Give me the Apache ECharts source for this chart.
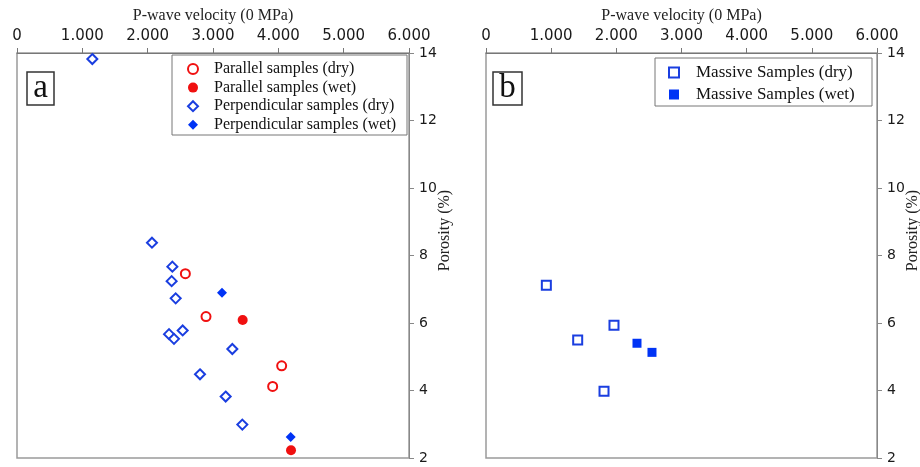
<!DOCTYPE html>
<html>
<head>
<meta charset="utf-8">
<title>P-wave velocity vs porosity</title>
<script src="https://cdn.jsdelivr.net/npm/echarts@6/dist/echarts.min.js"></script>
<style>
    html, body { margin: 0; padding: 0; background: #fff; }
    #main { width: 920px; height: 467px; }
</style>
</head>
<body>
<div id="main"></div>
<script>
// data: [P-wave velocity, porosity %]
var parallelDry = [[2577, 7.46], [2893, 6.19], [4051, 4.73], [3913, 4.12]];
var parallelWet = [[3454, 6.09], [4194, 2.23]];
var perpDry = [
    [1153, 13.82], [2066, 8.38], [2378, 7.67], [2367, 7.24], [2429, 6.73],
    [2327, 5.67], [2403, 5.53], [2536, 5.78], [3296, 5.23], [2801, 4.48],
    [3194, 3.82], [3449, 2.99]
];
var perpWet = [[3138, 6.90], [4189, 2.62]];
var massiveDry = [[926, 7.12], [1964, 5.93], [1407, 5.50], [1811, 3.98]];
var massiveWet = [[2317, 5.40], [2547, 5.13]];

var xTicks = [0, 1000, 2000, 3000, 4000, 5000, 6000];
var yTicks = [2, 4, 6, 8, 10, 12, 14];
var panelLetters = ['a', 'b'];

(function (win) {
    var chart = echarts.init(document.getElementById('main'));
    var RED = '#f01010';
    var BLUE_DRY = '#1a3ee0';
    var BLUE_WET = '#0033f5';
    var SERIF = '"Liberation Serif", "Times New Roman", serif';
    var SANS = '"DejaVu Sans", sans-serif';

    //两个坐标轴配置，只是gridIndex不同
    function makeX(idx) {
        return {
            gridIndex: idx,
            type: 'value',
            position: 'top',
            min: xTicks[0],
            max: xTicks[xTicks.length - 1],
            interval: xTicks[1] - xTicks[0],
            name: 'P-wave velocity (0 MPa)',
            nameLocation: 'middle',
            nameGap: 29,
            nameMoveOverlap: false,
            nameTextStyle: { fontFamily: SERIF, fontSize: 16, color: '#222' },
            axisLine: { show: true, onZero: false, lineStyle: { color: '#777', width: 1 } },
            axisTick: { show: true, inside: false, length: 5, lineStyle: { color: '#777' } },
            axisLabel: {
                margin: 9,
                fontFamily: SANS,
                fontSize: 15,
                color: '#1a1a1a',
                formatter: function (v) {
                    return v === 0 ? '0' : (v / 1000).toFixed(3);
                }
            },
            splitLine: { show: false }
        };
    }
    function makeY(idx) {
        return {
            gridIndex: idx,
            type: 'value',
            position: 'right',
            min: yTicks[0],
            max: yTicks[yTicks.length - 1],
            interval: yTicks[1] - yTicks[0],
            name: 'Porosity (%)',
            nameLocation: 'middle',
            nameRotate: 90,
            nameGap: 28,
            nameMoveOverlap: false,
            nameTextStyle: { fontFamily: SERIF, fontSize: 16, color: '#222', padding: [0, 0, 0, 50] },
            axisLine: { show: true, onZero: false, lineStyle: { color: '#888', width: 1 } },
            axisTick: { show: true, inside: false, length: 5, lineStyle: { color: '#888' } },
            axisLabel: { margin: 10, fontFamily: SANS, fontSize: 14, color: '#1a1a1a' },
            splitLine: { show: false }
        };
    }

    function openSeries(name, data, symbol, color, size, xi) {
        return {
            name: name,
            type: 'scatter',
            xAxisIndex: xi,
            yAxisIndex: xi,
            data: data,
            symbol: symbol,
            symbolSize: size,
            itemStyle: { color: '#fff', borderColor: color, borderWidth: 2, opacity: 1 },
            emphasis: { disabled: true }
        };
    }
    function fullSeries(name, data, symbol, color, size, xi) {
        return {
            name: name,
            type: 'scatter',
            xAxisIndex: xi,
            yAxisIndex: xi,
            data: data,
            symbol: symbol,
            symbolSize: size,
            itemStyle: { color: color, opacity: 1 },
            emphasis: { disabled: true }
        };
    }

    //画面板字母框和图例框
    var graphics = [
        { type: 'rect', shape: { x: 27, y: 72, width: 27, height: 33 },
          style: { fill: '#fff', stroke: '#333', lineWidth: 1.5 } },
        { type: 'text', x: 40.5, y: 88,
          style: { text: panelLetters[0], font: '33px ' + SERIF, fill: '#111',
                   textAlign: 'center', textVerticalAlign: 'middle' } },
        { type: 'rect', shape: { x: 493, y: 72, width: 29, height: 33 },
          style: { fill: '#fff', stroke: '#333', lineWidth: 1.5 } },
        { type: 'text', x: 507.5, y: 88,
          style: { text: panelLetters[1], font: '33px ' + SERIF, fill: '#111',
                   textAlign: 'center', textVerticalAlign: 'middle' } },
        { type: 'rect', z: -1, shape: { x: 172, y: 55, width: 235, height: 80 },
          style: { fill: '#fff', stroke: '#777', lineWidth: 1 } },
        { type: 'rect', z: -1, shape: { x: 655, y: 58, width: 217, height: 48 },
          style: { fill: '#fff', stroke: '#777', lineWidth: 1 } }
    ];

    var option = {
        animation: false,
        backgroundColor: '#fff',
        grid: [
            { left: 17, top: 53, width: 392, height: 405, show: true, outerBoundsMode: 'none',
              borderColor: '#9a9a9a', borderWidth: 1.5, backgroundColor: 'transparent' },
            { left: 486, top: 53, width: 391, height: 405, show: true, outerBoundsMode: 'none',
              borderColor: '#9a9a9a', borderWidth: 1.5, backgroundColor: 'transparent' }
        ],
        xAxis: [makeX(0), makeX(1)],
        yAxis: [makeY(0), makeY(1)],
        legend: [{
            orient: 'vertical',
            left: 187,
            top: 61,
            padding: 0,
            itemWidth: 10,
            itemHeight: 10,
            itemGap: 2.6,
            selectedMode: false,
            textStyle: { fontFamily: SERIF, fontSize: 16, lineHeight: 16, color: '#111', padding: [0, 0, 0, 11] },
            data: ['Parallel samples (dry)', 'Parallel samples (wet)',
                   'Perpendicular samples (dry)', 'Perpendicular samples (wet)']
        }, {
            orient: 'vertical',
            left: 668,
            top: 64,
            padding: 0,
            itemWidth: 10,
            itemHeight: 10,
            itemGap: 5,
            selectedMode: false,
            textStyle: { fontFamily: SERIF, fontSize: 17, lineHeight: 16, color: '#111', padding: [0, 0, 0, 12] },
            data: ['Massive Samples (dry)', 'Massive Samples (wet)']
        }],
        graphic: graphics,
        series: [
            openSeries('Parallel samples (dry)', parallelDry, 'circle', RED, 9, 0),
            fullSeries('Parallel samples (wet)', parallelWet, 'circle', RED, 10, 0),
            openSeries('Perpendicular samples (dry)', perpDry, 'diamond', BLUE_DRY, 10, 0),
            fullSeries('Perpendicular samples (wet)', perpWet, 'diamond', BLUE_WET, 10, 0),
            openSeries('Massive Samples (dry)', massiveDry, 'rect', BLUE_DRY, 9, 1),
            fullSeries('Massive Samples (wet)', massiveWet, 'rect', BLUE_WET, 9, 1)
        ]
    };
    chart.setOption(option);
})(window);
</script>
</body>
</html>
